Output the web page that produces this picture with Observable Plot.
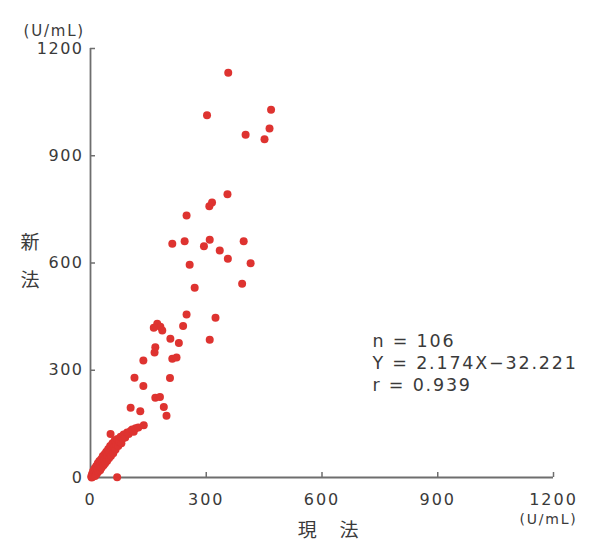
<!DOCTYPE html>
<html>
<head>
<meta charset="utf-8">
<script src="https://cdn.jsdelivr.net/npm/d3@7"></script>
<script src="https://cdn.jsdelivr.net/npm/@observablehq/plot@0.6"></script>
<style>
  html, body { margin: 0; padding: 0; background: #fff; }
  #chart svg { display: block; }
  #chart g[aria-label="x-axis tick label"] text { letter-spacing: 2px; }
  #chart g[aria-label="y-axis tick label"] text { letter-spacing: 1.5px; }
  #chart g[aria-label="text"] text { letter-spacing: 1.8px; }
</style>
</head>
<body>
<div id="chart"></div>
<script>
// 現法 (x) values, U/mL
const currentMethod = [
  357, 302, 468, 464, 402, 451, 355, 315, 308, 249,
  212, 244, 294, 309, 397, 335, 356, 415, 257, 270,
  393, 249, 324, 173, 181, 164, 186, 240, 207, 229,
  309, 168, 166, 212, 223, 206, 168, 180, 190, 197,
  137, 114, 137, 104, 129,
  2, 3, 4, 6, 7, 8, 10, 11, 12, 14,
  15, 16, 18, 19, 20, 22, 23, 25, 26, 28,
  29, 31, 32, 34, 35, 37, 38, 40, 41, 43,
  44, 46, 48, 49, 51, 52, 53, 55, 57, 59,
  61, 63, 65, 67, 69, 70, 72, 75, 78, 80,
  84, 86, 90, 95, 99, 104, 108, 112, 117, 124,
  138
];
// 新法 (y) values, U/mL
const newMethod = [
  1132, 1013, 1029, 976, 959, 946, 792, 769, 759, 733,
  654, 661, 647, 665, 661, 635, 612, 599, 595, 531,
  542, 456, 447, 430, 422, 419, 411, 424, 388, 376,
  385, 364, 350, 332, 336, 278, 223, 225, 197, 173,
  327, 279, 256, 195, 185,
  3, 0, 10, 2, 18, 6, 14, 26, 4, 20,
  32, 10, 24, 40, 16, 30, 46, 20, 36, 52,
  28, 44, 60, 34, 50, 66, 40, 56, 72, 46,
  62, 80, 54, 70, 88, 122, 60, 76, 96, 68,
  84, 104, 78, 92, 1, 108, 88, 100, 114, 96,
  110, 120, 112, 126, 122, 130, 134, 128, 138, 140,
  146
];
const xTicks = [0, 300, 600, 900, 1200];
const yTicks = [0, 300, 600, 900, 1200];
const unitLabel = "(U/mL)";
const yLabelChars = ["新", "法"];
const xLabel = "現　法";
const statsLines = ["n = 106", "Y = 2.174X\u221232.221", "r = 0.939"];

const points = currentMethod.map((x, i) => ({x, y: newMethod[i]}));

const textColor = "#3a3a3a";
const axisColor = "#6e6e6e";
const dotColor = "#de3330";

const chart = Plot.plot({
  width: 593,
  height: 554,
  marginLeft: 90,
  marginRight: 40,
  marginTop: 48,
  marginBottom: 77,
  style: {fontFamily: "DejaVu Sans", background: "#fff", color: textColor},
  x: {domain: [0, 1200]},
  y: {domain: [0, 1200]},
  marks: [
    Plot.ruleY([0], {stroke: axisColor, strokeWidth: 1.8}),
    Plot.ruleX([0], {stroke: axisColor, strokeWidth: 1.8}),
    Plot.axisX(xTicks, {
      tickSize: -5, tickPadding: 21, stroke: axisColor, strokeWidth: 1.5,
      fontSize: 16, fill: textColor, label: null, tickFormat: d => String(d)
    }),
    Plot.axisY(yTicks, {
      tickSize: -5, tickPadding: 12, stroke: axisColor, strokeWidth: 1.5,
      fontSize: 16, fill: textColor, label: null, tickFormat: d => String(d)
    }),
    Plot.dot(points, {x: "x", y: "y", r: 4, fill: dotColor, stroke: "none"}),
    Plot.text([unitLabel], {
      frameAnchor: "top-left", textAnchor: "start", dx: -67, dy: -23,
      fontSize: 15, fill: textColor
    }),
    Plot.text([unitLabel], {
      frameAnchor: "bottom-right", textAnchor: "middle", dx: -5, dy: 46,
      fontSize: 14, fill: textColor
    }),
    Plot.text([yLabelChars[0]], {
      frameAnchor: "left", dx: -70, dy: -20, fontSize: 19,
      fontFamily: "Noto Sans CJK JP", fill: textColor
    }),
    Plot.text([yLabelChars[1]], {
      frameAnchor: "left", dx: -70, dy: 18, fontSize: 19,
      fontFamily: "Noto Sans CJK JP", fill: textColor
    }),
    Plot.text([xLabel], {
      frameAnchor: "bottom", dx: 7, dy: 59, fontSize: 19,
      fontFamily: "Noto Sans CJK JP", fill: textColor
    }),
    Plot.text([statsLines.join("\n")], {
      frameAnchor: "left", textAnchor: "start", dx: 282, dy: 99,
      fontSize: 17.5, lineHeight: 1.24, fill: textColor
    })
  ]
});
document.getElementById("chart").appendChild(chart);
</script>
</body>
</html>
